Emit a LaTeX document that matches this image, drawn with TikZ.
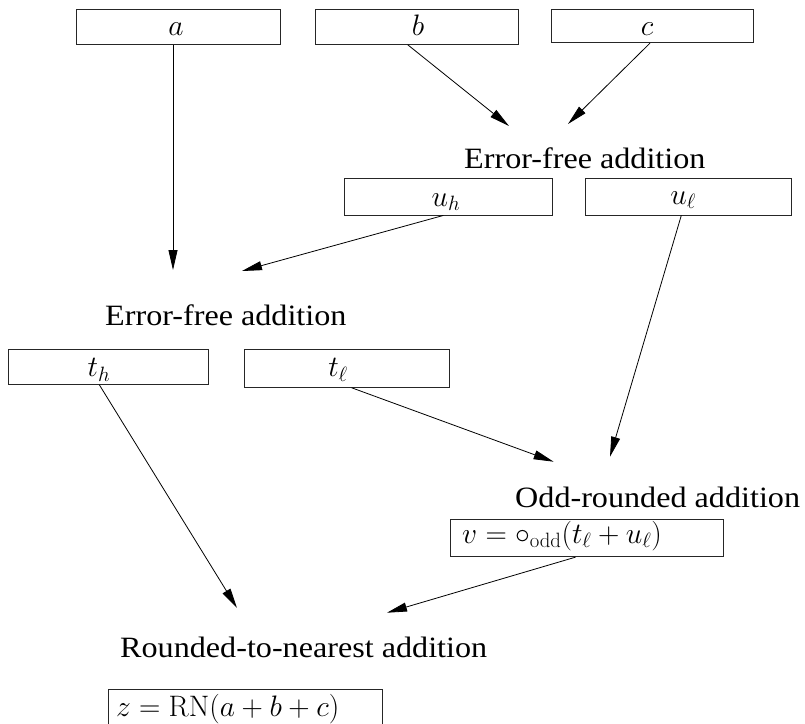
\RequirePackage{fix-cm}
\documentclass[tikz,border=0pt]{standalone}
\usepackage[no-math]{fontspec}
\newfontfamily\opfont[FakeStretch=1.09]{Liberation Serif}
\usetikzlibrary{arrows.meta}
\tikzset{
  box/.style={draw=black!85, line width=0.9pt, rectangle, inner sep=0pt},
  mlab/.style={font=\fontsize{29.6}{34}\selectfont, inner sep=0pt},
  txt/.style={font=\opfont\fontsize{29.5}{34}\selectfont, inner sep=0pt, anchor=base west},
  arr/.style={line width=0.8pt, -{Triangle[length=20pt,width=9pt]}}
}
\begin{document}
\begin{tikzpicture}[x=1pt,y=-1pt]
\useasboundingbox (0,0) rectangle (805,723);
\clip (0,0) rectangle (805,723);
% boxes
\node[box, minimum width=204pt, minimum height=35pt] (a) at (178,26.8) {};
\node[box, minimum width=203.5pt, minimum height=35pt] (b) at (416.7,26.8) {};
\node[box, minimum width=202pt, minimum height=33.4pt] (c) at (652.7,26) {};
\node[box, minimum width=207.4pt, minimum height=37pt] (uh) at (448.3,196.5) {};
\node[box, minimum width=206.7pt, minimum height=36.7pt] (ul) at (688.3,196.6) {};
\node[box, minimum width=199.5pt, minimum height=35pt] (th) at (108.3,366.8) {};
\node[box, minimum width=205.5pt, minimum height=38pt] (tl) at (347,368.3) {};
\node[box, minimum width=273pt, minimum height=37.4pt] (v) at (586.5,538) {};
\node[box, minimum width=274pt, minimum height=44pt] (z) at (245,711.3) {};
% box labels
\node[mlab, anchor=base] (la) at (176,35) {$a$};
\node[mlab, anchor=base] (lb) at (418,35) {$b$};
\node[mlab, anchor=base] (lc) at (647,35) {$c$};
\node[mlab, anchor=base] (luh) at (446,206) {$u_h$};
\node[mlab, anchor=base] (lul) at (683,204) {$u_\ell$};
\node[mlab, anchor=base] (lth) at (99,376.7) {$t_h$};
\node[mlab, anchor=base] (ltl) at (338,376.7) {$t_\ell$};
\node[mlab, anchor=base west] (lv) at (462,543) {$v=\circ_{\mathrm{odd}}(t_\ell+u_\ell)$};
\node[mlab, anchor=base west] (lz) at (116,716.5) {$z=\mathrm{RN}(a+b+c)$};
% operation labels
\node[txt] (ef1) at (464,168) {Error-free addition};
\node[txt] (ef2) at (105,325) {Error-free addition};
\node[txt] (odd) at (515,507) {Odd-rounded addition};
\node[txt] (rn) at (120,657) {Rounded-to-nearest addition};
% arrow tips
\coordinate (pa) at (173,270);
\coordinate (pb) at (509,126);
\coordinate (pc) at (568,124);
\coordinate (puh) at (242,271);
\coordinate (pul) at (610,456.7);
\coordinate (pth) at (237,608);
\coordinate (ptl) at (553.6,461.7);
\coordinate (pv) at (387,612.7);
% connectors
\draw[arr] ([xshift=-5pt]a.south) -- (pa);
\draw[arr] ([xshift=-9pt]b.south) -- (pb);
\draw[arr] ([xshift=-2.7pt]c.south) -- (pc);
\draw[arr] ([xshift=-5pt]uh.south) -- (puh);
\draw[arr] ([xshift=-7pt]ul.south) -- (pul);
\draw[arr] ([xshift=-9pt]th.south) -- (pth);
\draw[arr] ([xshift=4.6pt]tl.south) -- (ptl);
\draw[arr] ([xshift=-11pt]v.south) -- (pv);
\end{tikzpicture}
\end{document}
